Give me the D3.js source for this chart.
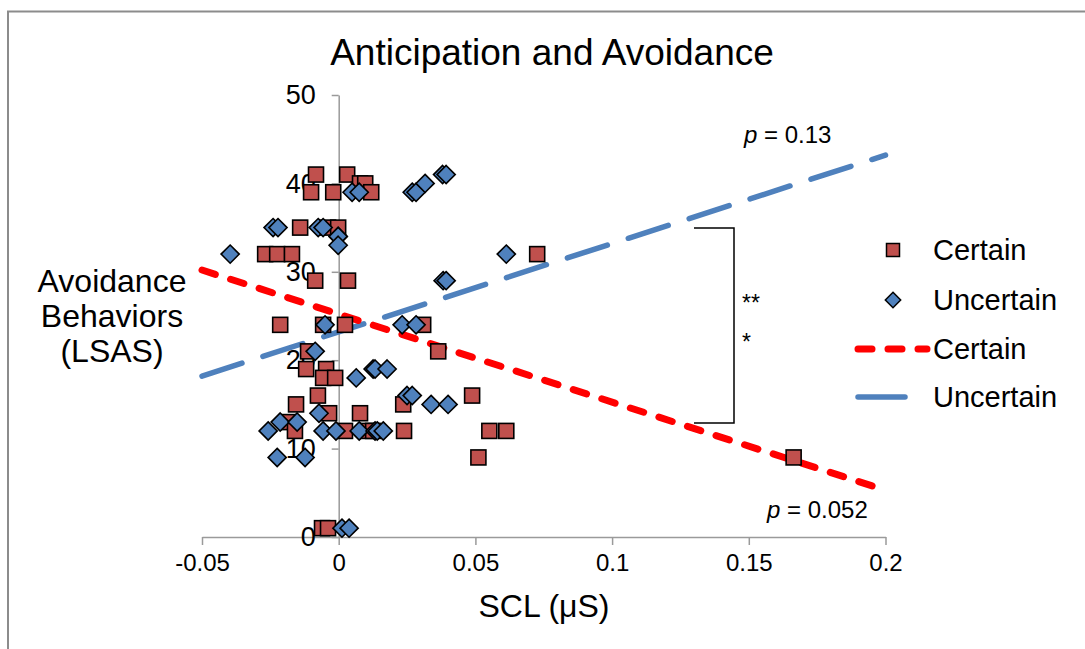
<!DOCTYPE html>
<html>
<head>
<meta charset="utf-8">
<script src="https://cdn.jsdelivr.net/npm/d3@7"></script>
<style>
  body { margin: 0; background: #fff; }
  svg { display: block; font-family: "Liberation Sans", Arial, sans-serif; }
</style>
</head>
<body>
<div id="chart"></div>
<script>
// Certain (squares): [SCL, LSAS]
var certainX = [-0.0083, 0.0031, 0.0078, 0.0097, -0.0101, -0.0020, 0.0119, -0.0141, -0.0039, -0.0002,
                -0.0269, -0.0225, -0.0171, 0.0726, -0.0086, 0.0034, -0.0214, -0.0057, 0.0023, 0.0309,
                -0.0112, 0.0364, -0.0119, -0.0046, -0.0057, -0.0013, -0.0076, 0.0488, -0.0156, 0.0236,
                -0.0035, 0.0078, -0.0189, -0.0160, 0.0023, 0.0108, 0.0126, 0.0239, 0.0551, 0.0613,
                0.0511, 0.1664, -0.0061, -0.0039];
var certainY = [41, 41, 40, 40, 39, 39, 39, 35, 35, 35,
                32, 32, 32, 32, 29, 29, 24, 24, 24, 24,
                21, 21, 19, 19, 18, 18, 16, 16, 15, 15,
                14, 14, 13, 12, 12, 12, 12, 12, 12, 12,
                9, 9, 1, 1];

// Uncertain (diamonds)
var uncertainX = [-0.0397, -0.0240, -0.0222, -0.0075, -0.0057, -0.0002, -0.0002, -0.0002, 0.0049, 0.0075,
                  0.0269, 0.0283, 0.0316, 0.0380, 0.0393, 0.0613, 0.0382, 0.0393, -0.0050, 0.0232,
                  0.0283, -0.0086, 0.0064, 0.0126, 0.0133, 0.0177, -0.0072, 0.0250, 0.0269, 0.0338,
                  0.0400, -0.0258, -0.0214, -0.0152, -0.0057, -0.0010, 0.0075, 0.0133, 0.0141, 0.0163,
                  -0.0225, -0.0123, 0.0012, 0.0038];
var uncertainY = [32, 35, 35, 35, 35, 34, 34, 33, 39, 39,
                  39, 39, 40, 41, 41, 32, 29, 29, 24, 24,
                  24, 21, 18, 19, 19, 19, 14, 16, 16, 15,
                  15, 12, 13, 13, 12, 12, 12, 12, 12, 12,
                  9, 9, 1, 1];

// regression lines: values at both ends of the x axis
var certainFitX = [-0.05, 0.2];
var certainFitY = [30.2, 5.3];
var uncertainFitX = [-0.05, 0.2];
var uncertainFitY = [18.2, 43.2];

var xTicks = [-0.05, 0, 0.05, 0.1, 0.15, 0.2];
var xTickLabels = ["-0.05", "0", "0.05", "0.1", "0.15", "0.2"];
var yTicks = [0, 10, 20, 30, 40, 50];

var W = 1085, H = 649;
var red = "#C0504D", blue = "#4F81BD";
var font = "'Liberation Sans', Arial, sans-serif";

var svg = d3.select("#chart").append("svg")
    .attr("width", W)
    .attr("height", H);

// outer chart frame
svg.append("rect")
    .attr("x", 8).attr("y", 11.5)
    .attr("width", W + 10).attr("height", H + 10)
    .attr("fill", "none")
    .attr("stroke", "#8c8c8c")
    .attr("stroke-width", 2);

var x = d3.scaleLinear().domain([-0.05, 0.2]).range([202, 885.5]);
var y = d3.scaleLinear().domain([0, 50]).range([537, 95]);

// x axis at y = 0
var xAxis = svg.append("g")
    .attr("transform", "translate(0," + y(0) + ")")
    .call(d3.axisBottom(x).tickValues(xTicks).tickSize(8).tickSizeOuter(0)
        .tickFormat(function(d, i) { return xTickLabels[i]; }));
xAxis.select(".domain").attr("stroke", "#9a9a9a").attr("stroke-width", 1.5);
xAxis.selectAll(".tick line").attr("stroke", "#9a9a9a").attr("stroke-width", 1.5);
xAxis.selectAll("text")
    .attr("fill", "#000")
    .attr("y", 17)
    .style("font-size", "24px")
    .style("font-family", font);

// y axis at x = 0
var yAxis = svg.append("g")
    .attr("transform", "translate(" + x(0) + ",0)")
    .call(d3.axisLeft(y).tickValues(yTicks).tickSize(7).tickSizeOuter(0));
yAxis.select(".domain").attr("stroke", "#9a9a9a").attr("stroke-width", 1.5);
yAxis.selectAll(".tick line").attr("stroke", "#9a9a9a").attr("stroke-width", 1.5);
yAxis.selectAll("text")
    .attr("fill", "#000")
    .attr("x", -23)
    .style("font-size", "27px")
    .style("font-family", font);

// regression lines
var line = d3.line().x(function(d) { return x(d[0]); }).y(function(d) { return y(d[1]); });

svg.append("path")
    .datum(d3.zip(uncertainFitX, uncertainFitY))
    .attr("d", line)
    .attr("fill", "none")
    .attr("stroke", blue)
    .attr("stroke-width", 5.5)
    .attr("stroke-linecap", "round")
    .attr("stroke-dasharray", "42,22");

svg.append("path")
    .datum(d3.zip(certainFitX, certainFitY))
    .attr("d", line)
    .attr("fill", "none")
    .attr("stroke", "#FF0000")
    .attr("stroke-width", 7)
    .attr("stroke-linecap", "round")
    .attr("stroke-dasharray", "14,16");

// markers
var sq = 15;
svg.append("g").selectAll("rect")
    .data(d3.zip(certainX, certainY))
    .enter().append("rect")
    .attr("x", function(d) { return x(d[0]) - sq / 2; })
    .attr("y", function(d) { return y(d[1]) - sq / 2; })
    .attr("width", sq).attr("height", sq)
    .attr("fill", red)
    .attr("stroke", "#000")
    .attr("stroke-width", 1.6);

var diamond = d3.symbol().type(d3.symbolDiamond2).size(210);
svg.append("g").selectAll("path")
    .data(d3.zip(uncertainX, uncertainY))
    .enter().append("path")
    .attr("transform", function(d) { return "translate(" + x(d[0]) + "," + y(d[1]) + ")"; })
    .attr("d", diamond)
    .attr("fill", blue)
    .attr("stroke", "#000")
    .attr("stroke-width", 1.6);

// title
svg.append("text")
    .attr("x", 552).attr("y", 65)
    .attr("text-anchor", "middle")
    .style("font-size", "37px")
    .text("Anticipation and Avoidance");

// axis titles
svg.append("text")
    .attr("x", 544).attr("y", 617)
    .attr("text-anchor", "middle")
    .style("font-size", "32px")
    .text("SCL (\u03BCS)");

var yTitle = svg.append("text")
    .attr("text-anchor", "middle")
    .attr("transform", "translate(112,292)")
    .style("font-size", "32px");
["Avoidance", "Behaviors", "(LSAS)"].forEach(function(t, i) {
    yTitle.append("tspan").attr("x", 0).attr("dy", i === 0 ? 0 : 35).text(t);
});

// p-value labels
function pLabel(px, py, val) {
    var t = svg.append("text").attr("x", px).attr("y", py).style("font-size", "24px");
    t.append("tspan").style("font-style", "italic").text("p");
    t.append("tspan").text(" = " + val);
}
pLabel(744, 143, "0.13");
pLabel(767, 518, "0.052");

// significance bracket
svg.append("path")
    .attr("d", "M694,228H734V423H694")
    .attr("fill", "none")
    .attr("stroke", "#000")
    .attr("stroke-width", 1.5);
svg.append("text").attr("x", 742).attr("y", 311).style("font-size", "23px").text("**");
svg.append("text").attr("x", 742).attr("y", 350).style("font-size", "23px").text("*");

// legend
var lg = svg.append("g");
var lgX = 893, lgText = 933;
var lgRows = [250, 300, 349, 397];
lg.append("rect")
    .attr("x", lgX - 6.5).attr("y", lgRows[0] - 6.5)
    .attr("width", 13).attr("height", 13)
    .attr("fill", red).attr("stroke", "#000").attr("stroke-width", 1.5);
lg.append("path")
    .attr("transform", "translate(" + lgX + "," + lgRows[1] + ")")
    .attr("d", d3.symbol().type(d3.symbolDiamond2).size(150))
    .attr("fill", blue).attr("stroke", "#000").attr("stroke-width", 1.5);
lg.append("line")
    .attr("x1", 858).attr("x2", 927).attr("y1", lgRows[2]).attr("y2", lgRows[2])
    .attr("stroke", "#FF0000").attr("stroke-width", 7)
    .attr("stroke-linecap", "round").attr("stroke-dasharray", "14,16");
lg.append("line")
    .attr("x1", 858).attr("x2", 905).attr("y1", lgRows[3]).attr("y2", lgRows[3])
    .attr("stroke", blue).attr("stroke-width", 5.5)
    .attr("stroke-linecap", "round");
["Certain", "Uncertain", "Certain", "Uncertain"].forEach(function(t, i) {
    lg.append("text")
        .attr("x", lgText).attr("y", lgRows[i])
        .attr("dy", "0.35em")
        .style("font-size", "29px")
        .text(t);
});
</script>
</body>
</html>
